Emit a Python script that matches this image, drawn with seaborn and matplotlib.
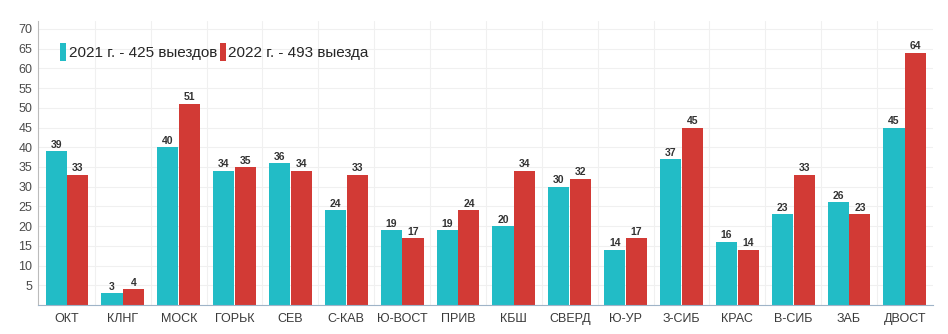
import matplotlib
matplotlib.use("Agg")
import matplotlib.pyplot as plt
from matplotlib.patches import Patch
import seaborn as sns
import pandas as pd

regions = ["ОКТ", "КЛНГ", "МОСК", "ГОРЬК", "СЕВ", "С-КАВ", "Ю-ВОСТ", "ПРИВ",
           "КБШ", "СВЕРД", "Ю-УР", "З-СИБ", "КРАС", "В-СИБ", "ЗАБ", "ДВОСТ"]
trips_2021 = [39, 3, 40, 34, 36, 24, 19, 19, 20, 30, 14, 37, 16, 23, 26, 45]
trips_2022 = [33, 4, 51, 35, 34, 33, 17, 24, 34, 32, 17, 45, 14, 33, 23, 64]
series_labels = ["2021 г. - 425 выездов", "2022 г. - 493 выезда"]
y_ticks = [5, 10, 15, 20, 25, 30, 35, 40, 45, 50, 55, 60, 65, 70]

teal = "#22bcc6"
red = "#d23a35"

df = pd.DataFrame({
    "region": regions * 2,
    "value": trips_2021 + trips_2022,
    "year": [series_labels[0]] * len(regions) + [series_labels[1]] * len(regions),
})

sns.set_theme(style="white")
plt.rcParams["font.family"] = ["Liberation Sans", "DejaVu Sans"]

fig = plt.figure(figsize=(9.48, 3.34), dpi=100)
ax = fig.add_axes([0.040, 0.087, 0.944, 0.85])

sns.barplot(data=df, x="region", y="value", hue="year", order=regions,
            hue_order=series_labels, palette=[teal, red], saturation=1,
            width=0.78, gap=0.03, edgecolor="none", legend=False, ax=ax)

for cont in ax.containers:
    ax.bar_label(cont, fontsize=7.5, fontweight="bold", color="#333333", padding=1)

ax.set_xlim(-0.52, len(regions) - 0.5)
ax.set_ylim(0, 72)
ax.set_yticks(y_ticks)
ax.set_yticklabels([str(t) for t in y_ticks], fontsize=9, color="#4a4a4a")
ax.tick_params(axis="x", labelsize=9, colors="#3a3a3a", length=0, pad=6)
ax.tick_params(axis="y", length=0, pad=4)
ax.set_xlabel("")
ax.set_ylabel("")

# faint grid: horizontal every 5 units, vertical between categories
for t in y_ticks:
    ax.axhline(t, color="#f0f0f0", lw=0.8, zorder=0)
for i in range(len(regions) - 1):
    ax.axvline(i + 0.5, color="#f0f0f0", lw=0.8, zorder=0)

for side in ["top", "right"]:
    ax.spines[side].set_visible(False)
ax.spines["left"].set_color("#bbbbbb")
ax.spines["left"].set_linewidth(0.8)
ax.spines["bottom"].set_color("#9fb4c8")
ax.spines["bottom"].set_linewidth(0.8)

handles = [Patch(facecolor=teal, edgecolor="none"), Patch(facecolor=red, edgecolor="none")]
ax.legend(handles, series_labels, loc="upper left", bbox_to_anchor=(0.018, 0.945),
          ncol=2, frameon=False, fontsize=11, handlelength=0.4, handleheight=1.5,
          handletextpad=0.15, columnspacing=0.2, borderaxespad=0)

fig.savefig("out.png", dpi=100, facecolor="white")
